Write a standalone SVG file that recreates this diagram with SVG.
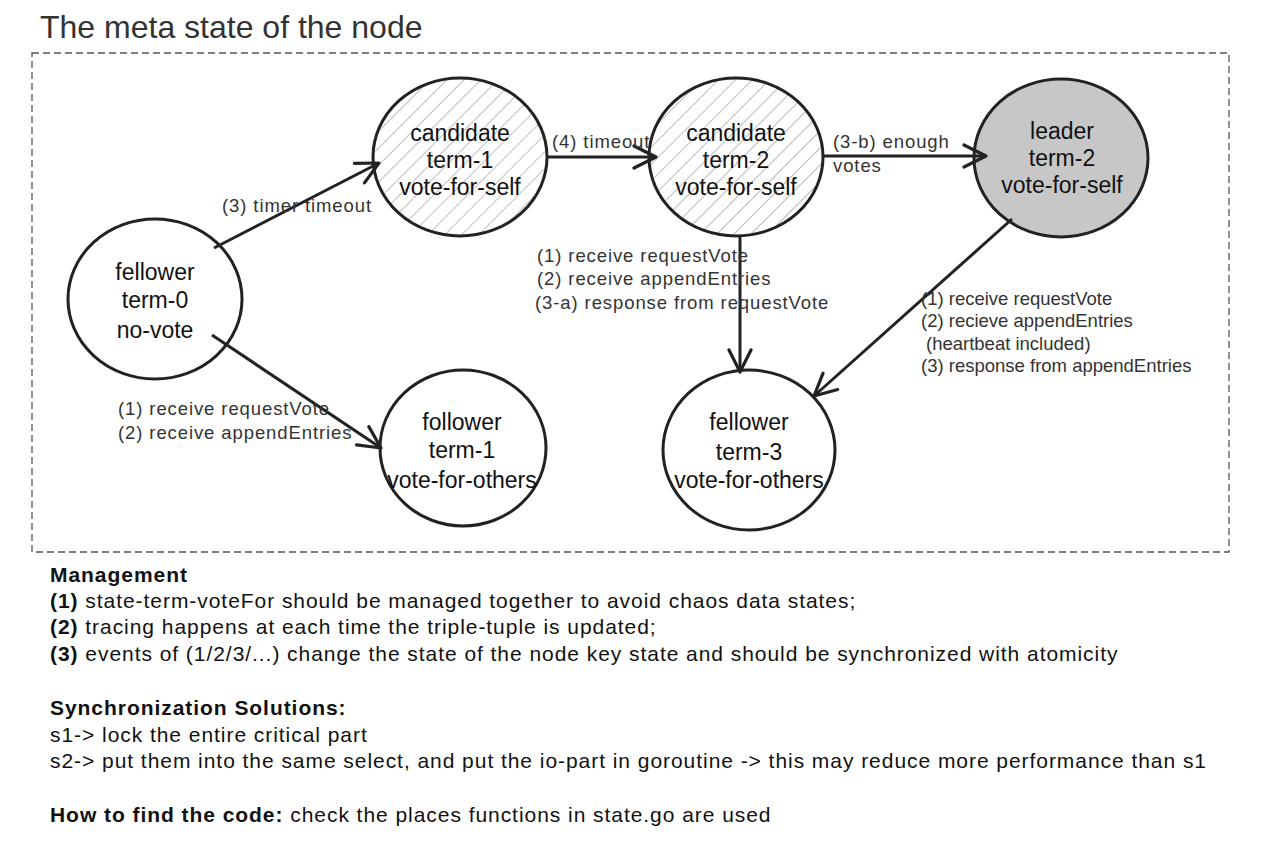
<svg xmlns="http://www.w3.org/2000/svg" width="1286" height="860" viewBox="0 0 1286 860">
<defs>
<pattern id="hatch" patternUnits="userSpaceOnUse" width="12" height="12" patternTransform="rotate(45)">
<rect width="12" height="12" fill="#fff"/>
<line x1="0" y1="0" x2="0" y2="12" stroke="#9a9a9a" stroke-width="1.3"/>
</pattern>
<marker id="arr" markerUnits="userSpaceOnUse" markerWidth="30" markerHeight="30" refX="24" refY="12" orient="auto" viewBox="0 0 30 24">
<path d="M2,1 L24,12 L2,23" fill="none" stroke="#222" stroke-width="3.2" stroke-linecap="round" stroke-linejoin="round"/>
</marker>
<style>
.node ellipse{stroke:#222;stroke-width:3}
.nt{font-family:"Liberation Sans",Arial,sans-serif;font-size:23px;fill:#111;text-anchor:middle}
.el{font-family:"Liberation Sans",Arial,sans-serif;font-size:18.5px;letter-spacing:0.9px;fill:#333}
.er{letter-spacing:0px}
.conn line{stroke:#222;stroke-width:3;marker-end:url(#arr)}
.bt{font-family:"Liberation Sans",Arial,sans-serif;font-size:21px;letter-spacing:0.95px;fill:#111}
.b{font-weight:bold}
</style>
</defs>
<rect width="1286" height="860" fill="#fff"/>
<text x="40" y="38" font-family="'Liberation Sans',Arial,sans-serif" font-size="32" fill="#333">The meta state of the node</text>
<rect x="32" y="53" width="1197" height="499" fill="none" stroke="#555" stroke-width="1.3" stroke-dasharray="7 4"/>

<g id="n-fellower0" class="node">
<ellipse cx="155" cy="299" rx="87" ry="80" fill="#fff"/>
<text class="nt" x="155" y="280">fellower</text>
<text class="nt" x="155" y="308">term-0</text>
<text class="nt" x="155" y="338">no-vote</text>
</g>
<g id="n-candidate1" class="node">
<ellipse cx="460" cy="157" rx="87" ry="79" fill="url(#hatch)"/>
<text class="nt" x="460" y="141">candidate</text>
<text class="nt" x="460" y="168">term-1</text>
<text class="nt" x="460" y="195">vote-for-self</text>
</g>
<g id="n-candidate2" class="node">
<ellipse cx="736" cy="157" rx="87" ry="79" fill="url(#hatch)"/>
<text class="nt" x="736" y="141">candidate</text>
<text class="nt" x="736" y="168">term-2</text>
<text class="nt" x="736" y="195">vote-for-self</text>
</g>
<g id="n-leader" class="node">
<ellipse cx="1061" cy="158" rx="87" ry="79" fill="#c7c7c7"/>
<text class="nt" x="1062" y="139">leader</text>
<text class="nt" x="1062" y="166">term-2</text>
<text class="nt" x="1062" y="193">vote-for-self</text>
</g>
<g id="n-follower1" class="node">
<ellipse cx="463" cy="448" rx="83" ry="78" fill="#fff"/>
<text class="nt" x="462" y="430">follower</text>
<text class="nt" x="462" y="458">term-1</text>
<text class="nt" x="462" y="488">vote-for-others</text>
</g>
<g id="n-fellower3" class="node">
<ellipse cx="749" cy="450" rx="86" ry="80" fill="#fff"/>
<text class="nt" x="749" y="430">fellower</text>
<text class="nt" x="749" y="460">term-3</text>
<text class="nt" x="749" y="488">vote-for-others</text>
</g>

<g id="connectors" class="conn">
<line x1="214" y1="248" x2="379" y2="163"/>
<line x1="212" y1="335" x2="381" y2="448"/>
<line x1="547" y1="157" x2="656" y2="157"/>
<line x1="823" y1="156" x2="986" y2="156"/>
<line x1="740" y1="236" x2="740" y2="372"/>
<line x1="1012" y1="219" x2="814" y2="396"/>
</g>

<g id="edge-labels">
<text class="el" x="222" y="212">(3) timer timeout</text>
<text class="el" x="552" y="148">(4) timeout</text>
<text class="el" x="833" y="148">(3-b) enough</text>
<text class="el" x="833" y="172">votes</text>
<text class="el" x="537" y="262">(1) receive requestVote</text>
<text class="el" x="537" y="285">(2) receive appendEntries</text>
<text class="el" x="535" y="309">(3-a) response from requestVote</text>
<text class="el er" x="921" y="305">(1) receive requestVote</text>
<text class="el er" x="921" y="327">(2) recieve appendEntries</text>
<text class="el er" x="926" y="350">(heartbeat included)</text>
<text class="el er" x="921" y="372">(3) response from appendEntries</text>
<text class="el" x="118" y="415">(1) receive requestVote</text>
<text class="el" x="118" y="439">(2) receive appendEntries</text>
</g>

<g id="notes">
<text class="bt b" x="50" y="582">Management</text>
<text class="bt" x="50" y="608"><tspan class="b">(1)</tspan> state-term-voteFor should be managed together to avoid chaos data states;</text>
<text class="bt" x="50" y="634"><tspan class="b">(2)</tspan> tracing happens at each time the triple-tuple is updated;</text>
<text class="bt" x="50" y="661"><tspan class="b">(3)</tspan> events of (1/2/3/...) change the state of the node key state and should be synchronized with atomicity</text>
<text class="bt b" x="50" y="715">Synchronization Solutions:</text>
<text class="bt" x="50" y="742">s1-&gt; lock the entire critical part</text>
<text class="bt" x="50" y="768">s2-&gt; put them into the same select, and put the io-part in goroutine -&gt; this may reduce more performance than s1</text>
<text class="bt" x="50" y="822"><tspan class="b">How to find the code:</tspan> check the places functions in state.go are used</text>
</g>
</svg>
